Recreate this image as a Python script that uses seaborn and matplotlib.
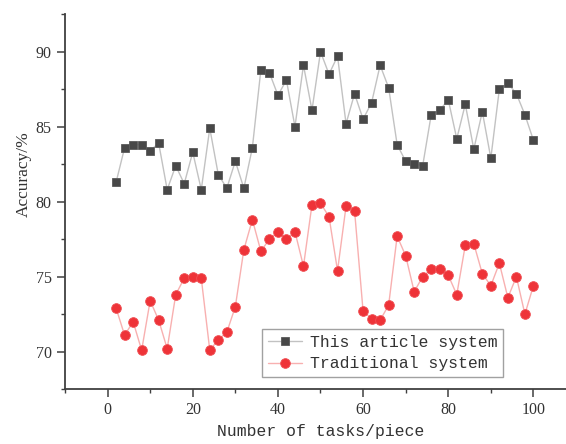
import numpy as np
import pandas as pd
import matplotlib
matplotlib.use("Agg")
import matplotlib.pyplot as plt
from matplotlib.ticker import MultipleLocator
import seaborn as sns

tasks = list(range(2, 101, 2))
this_article = [81.3, 83.6, 83.8, 83.8, 83.4, 83.9, 80.8, 82.4, 81.2, 83.3,
                80.8, 84.9, 81.8, 80.9, 82.7, 80.9, 83.6, 88.8, 88.6, 87.1,
                88.1, 85.0, 89.1, 86.1, 90.0, 88.5, 89.7, 85.2, 87.2, 85.5,
                86.6, 89.1, 87.6, 83.8, 82.7, 82.5, 82.4, 85.8, 86.1, 86.8,
                84.2, 86.5, 83.5, 86.0, 82.9, 87.5, 87.9, 87.2, 85.8, 84.1]
traditional = [72.9, 71.1, 72.0, 70.1, 73.4, 72.1, 70.2, 73.8, 74.9, 75.0,
               74.9, 70.1, 70.8, 71.3, 73.0, 76.8, 78.8, 76.7, 77.5, 78.0,
               77.5, 78.0, 75.7, 79.8, 79.9, 79.0, 75.4, 79.7, 79.4, 72.7,
               72.2, 72.1, 73.1, 77.7, 76.4, 74.0, 75.0, 75.5, 75.5, 75.1,
               73.8, 77.1, 77.2, 75.2, 74.4, 75.9, 73.6, 75.0, 72.5, 74.4]
series_names = ["This article system", "Traditional system"]
x_label = "Number of tasks/piece"
y_label = "Accuracy/%"

sns.set_style("ticks")
plt.rcParams["font.family"] = ["Liberation Serif", "DejaVu Serif"]

fig = plt.figure(figsize=(5.66, 4.44), dpi=100)
ax = fig.add_axes([65 / 566, (444 - 389.2) / 444, 511 / 566, 375 / 444])

sns.lineplot(x=tasks, y=this_article, ax=ax, color="#c2c2c2", linewidth=1.0,
             marker="s", markersize=6, markerfacecolor="#484848",
             markeredgecolor="#5a5a5a", markeredgewidth=0.6,
             label=series_names[0])
sns.lineplot(x=tasks, y=traditional, ax=ax, color="#f8b0b0", linewidth=1.0,
             marker="o", markersize=7, markerfacecolor="#ee3338",
             markeredgecolor="#f05055", markeredgewidth=0.6,
             label=series_names[1])

ax.set_xlim(-10, 110)
ax.set_ylim(67.5, 92.5)
ax.xaxis.set_major_locator(MultipleLocator(20))
ax.xaxis.set_minor_locator(MultipleLocator(10))
ax.yaxis.set_major_locator(MultipleLocator(5))
ax.yaxis.set_minor_locator(MultipleLocator(2.5))
ax.set_xticks([0, 20, 40, 60, 80, 100])

for s in ["top", "right"]:
    ax.spines[s].set_visible(False)
for s in ["left", "bottom"]:
    ax.spines[s].set_color("#404040")
    ax.spines[s].set_linewidth(1.3)

ax.tick_params(which="major", direction="out", length=5.5, width=1.1,
               color="#404040", labelsize=11.5, labelcolor="#333333", pad=4)
ax.tick_params(which="minor", direction="out", length=3, width=1.0,
               color="#404040")

ax.set_xlabel(x_label, fontfamily="Liberation Mono", fontsize=11.8,
              color="#333333", labelpad=4)
ax.set_ylabel(y_label, fontfamily="Liberation Serif", fontsize=12.5,
              color="#333333")
ax.yaxis.label.set_verticalalignment("center")
ax.yaxis.set_label_coords(-0.08, 0.574)

leg = ax.legend(loc="lower left", bbox_to_anchor=(0.3855, 0.0325),
                borderaxespad=0, fancybox=False, frameon=True,
                prop={"family": "Liberation Mono", "size": 11.8},
                handlelength=2.1, handletextpad=0.45, borderpad=0.35,
                labelspacing=0.4)
leg.get_frame().set_edgecolor("#8a8a8a")
leg.get_frame().set_linewidth(1.0)
for t in leg.get_texts():
    t.set_color("#333333")

fig.savefig("out.png", dpi=100)
